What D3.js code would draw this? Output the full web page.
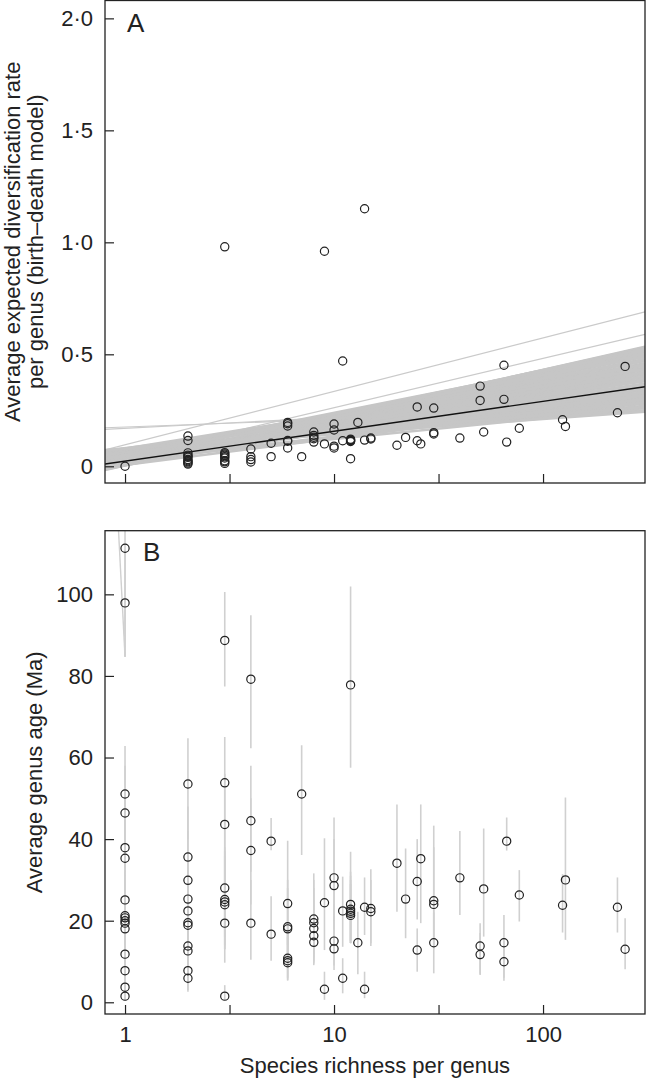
<!DOCTYPE html>
<html>
<head>
<meta charset="utf-8">
<script src="https://cdn.jsdelivr.net/npm/d3@7"></script>
<style>
  html, body { margin: 0; padding: 0; background: #fff; }
  svg text { font-family: "Liberation Sans", Arial, Helvetica, sans-serif; fill: #222; }
</style>
</head>
<body>
<svg id="chart" width="646" height="1078"></svg>
<script>
// ---------------- DATA ----------------
// Panel A: species richness (x) vs average expected diversification rate (y)
const aX = [1,
  2,2,2,2,2,2,2,2,2,2,2,
  3,3,3,3,3,3,3,3,3,
  4,4,4,4,
  5,5,
  6,6,6,6,6,6,
  7,
  8,8,8,8,8,
  9,9,
  10,10,10,10,
  11,11,
  12,12,12,12,12,12,
  13,
  14,14,
  15,15,
  20,22,25,25,26,30,30,30,40,50,50,52,65,65,67,77,124,128,227,247];
const aY = [0.0,
  0.135,0.115,0.06,0.05,0.045,0.04,0.03,0.025,0.02,0.015,0.01,
  0.98,0.061,0.055,0.049,0.043,0.037,0.025,0.02,0.013,
  0.077,0.043,0.03,0.019,
  0.103,0.043,
  0.196,0.19,0.18,0.115,0.112,0.082,
  0.043,
  0.153,0.138,0.13,0.123,0.108,
  0.96,0.1,
  0.189,0.162,0.09,0.082,
  0.47,0.114,
  0.121,0.118,0.115,0.113,0.111,0.034,
  0.196,
  1.15,0.117,
  0.126,0.122,
  0.094,0.129,0.265,0.114,0.1,0.26,0.15,0.144,0.126,0.358,0.294,0.153,0.451,0.299,0.108,0.17,0.208,0.178,0.239,0.446];

// Fitted regression (value at x = 1, slope per log10 unit)
const fitIntercept = 0.023;
const fitSlope = 0.1335;

// Resampled regression lines: value at left plot edge and at right plot edge
const bandLeft  = [-0.016,-0.012,-0.008,-0.005,0.0,0.002,0.005,0.008,0.01,0.012,0.015,0.017,0.02,0.022,0.025,0.027,0.03,0.032,0.035,0.037,0.04,0.042,0.045,0.048,0.05,0.055,0.06,0.065,0.073,
  -0.01,0.0,0.01,0.02,0.03,0.04,0.05,0.06,0.07,-0.005,0.065,0.0,0.015,0.035,0.055,0.045,0.025,
  -0.014,0.004,0.018,0.028,0.038,0.052,0.062,0.068,0.07,-0.003,0.008,0.033];
const bandRight = [0.534,0.52,0.51,0.50,0.49,0.47,0.46,0.45,0.44,0.43,0.42,0.41,0.40,0.39,0.38,0.37,0.36,0.35,0.34,0.33,0.32,0.31,0.30,0.29,0.28,0.27,0.26,0.25,0.244,
  0.40,0.36,0.30,0.26,0.50,0.47,0.44,0.40,0.36,0.30,0.45,0.53,0.525,0.515,0.42,0.49,0.33,
  0.48,0.455,0.435,0.415,0.385,0.345,0.315,0.285,0.265,0.42,0.385,0.475];
// Outlying resampled lines (drawn thinner, visible outside the band)
const outLeft  = [0.073, 0.02, 0.172, 0.165];
const outRight = [0.69, 0.589, 0.26, 0.29];

// Panel B: species richness (x) vs average genus age (Ma) with uncertainty ranges
const bX  = [1,1,1,1,1,1,1,1,1,1,1,1,1,1,1,1,
  2,2,2,2,2,2,2,2,2,2,2,
  3,3,3,3,3,3,3,3,3,
  4,4,4,4,
  5,5,
  6,6,6,6,6,6,
  7,
  8,8,8,8,8,
  9,9,
  10,10,10,10,
  11,11,
  12,12,12,12,12,12,
  13,
  14,14,
  15,15,
  20,22,25,25,26,30,30,30,40,50,50,52,65,65,67,77,124,128,227,247];
const bY  = [111.3,97.9,51.05,46.4,37.9,35.3,25.1,21.2,20.7,20.0,19.4,18.0,11.8,7.75,3.7,1.5,
  53.5,35.6,29.9,25.3,22.4,19.5,18.9,13.8,12.6,7.75,5.9,
  88.7,53.8,43.6,28.0,25.2,24.6,23.9,19.4,1.5,
  79.2,44.5,37.2,19.4,
  39.5,16.7,
  24.2,18.5,18.0,10.8,10.2,9.7,
  51.05,
  20.4,19.5,18.1,16.3,14.7,
  24.4,3.2,
  30.5,28.6,15.0,13.1,
  22.4,5.9,
  77.8,24.0,22.8,22.3,21.8,21.3,
  14.6,
  23.3,3.2,
  23.0,22.2,
  34.1,25.3,29.6,12.8,35.2,24.9,24.0,14.6,30.5,13.8,11.7,27.8,14.6,9.95,39.5,26.3,23.8,30.0,23.3,13.0];
const bLo = [84.7,84.7,38,33,25,22,14,11,10,9,9,8,4,2,0.5,0.3,
  40,22,18,14,12,10,9,6,5,3,2.6,
  77.4,40,30,16,14,13,13,9.7,0.5,
  62.3,32,24,10.4,
  37.3,10.2,
  14,10,9,5.3,6,5.5,
  36.1,
  12,11,10,9.1,9.5,
  12.8,0.6,
  20,18,9,7.9,
  13.6,2.2,
  57.5,15,14.5,14.5,14.5,14.5,
  6.9,
  16.5,1,
  13.8,14.5,
  22.2,15.7,20.3,7.5,19.4,14,13,7.1,21.4,6.7,7,16.1,5.3,6,37.2,19.8,17.1,15.3,17.1,8.1];
const bHi = [118,111,62.8,58,50,47,36,32,31,30,29,28,20,14,8,4,
  64.7,48,42,36,33,30,29,22,20,14,12,
  100.6,65,56,40,38,37,36,30,4.2,
  94.9,58,50,30,
  45.2,26,
  39.6,30,28,18,17,16,
  63,
  31.6,30,28,25,22,
  40.2,7.5,
  45.3,40,24,21,
  30.8,10.8,
  101.9,36.9,32,31,30,29,
  22.2,
  30.6,7.5,
  32.6,30,
  48.5,37.7,40,18.1,48.5,43.3,38,22,42,19.4,17,42.6,21.4,15,45.3,32.4,31.4,50.2,30.6,20.6];
// A stray slanted range line near the top-left of panel B
const slantX = [0.93, 1];
const slantY = [116, 84.7];

// Axis ticks
const xTicks = [1, Math.sqrt(10), 10, Math.sqrt(1000), 100];
const xTickLabels = {1: "1", 10: "10", 100: "100"};
const aYTicks = [0, 0.5, 1.0, 1.5, 2.0];
const aYTickLabels = ["0", "0\u00B75", "1\u00B70", "1\u00B75", "2\u00B70"];
const bYTicks = [0, 20, 40, 60, 80, 100];
const bYTickLabels = ["0", "20", "40", "60", "80", "100"];

// ---------------- LAYOUT ----------------
const svg = d3.select("#chart");
const L = 105, R = 645;
const A = {top: 0.5, bottom: 483};
const B = {top: 530.7, bottom: 1014};
const FONT = 22;
const ink = "#222";

const x = d3.scaleLog().domain([0.802, 307.5]).range([L, R]);
const yA = d3.scaleLinear().domain([-0.0746, 2.082]).range([483, 0]);
const yB = d3.scaleLinear().domain([-2.87, 115.6]).range([B.bottom, B.top]);

const defs = svg.append("defs");
defs.append("clipPath").attr("id", "clipA").append("rect")
  .attr("x", L).attr("y", A.top).attr("width", R - L).attr("height", A.bottom - A.top);
defs.append("clipPath").attr("id", "clipB").append("rect")
  .attr("x", L).attr("y", B.top).attr("width", R - L).attr("height", B.bottom - B.top);

function frame(top, bottom, yScale, yTicks, yLabels, showXLabels) {
  const g = svg.append("g");
  const xAxis = d3.axisTop(x).tickValues(xTicks).tickSize(9).tickFormat("");
  const gx = g.append("g").attr("transform", `translate(0,${bottom})`).call(xAxis);
  gx.select(".domain").remove();
  gx.selectAll(".tick line").attr("stroke", ink).attr("stroke-width", 1.2);
  if (showXLabels) {
    const xl = d3.axisBottom(x).tickValues([1, 10, 100]).tickSize(0).tickFormat(d => xTickLabels[d]);
    const gxl = g.append("g").attr("transform", `translate(0,${bottom})`).call(xl);
    gxl.select(".domain").remove();
    gxl.selectAll(".tick text").attr("font-size", FONT).attr("y", 28).attr("dy", 0)
      .attr("font-family", '"Liberation Sans", Arial, sans-serif').attr("fill", ink);
  }
  const yAxis = d3.axisRight(yScale).tickValues(yTicks).tickSize(9).tickFormat("");
  const gy = g.append("g").attr("transform", `translate(${L},0)`).call(yAxis);
  gy.select(".domain").remove();
  gy.selectAll(".tick line").attr("stroke", ink).attr("stroke-width", 1.2);
  g.selectAll(".ylab").data(yTicks).enter().append("text")
    .attr("x", 93).attr("y", d => yScale(d)).attr("dy", "0.36em")
    .attr("text-anchor", "end").attr("font-size", FONT)
    .text((d, i) => yLabels[i]);
  g.append("rect").attr("x", L).attr("y", top).attr("width", R - L).attr("height", bottom - top)
    .attr("fill", "none").attr("stroke", ink).attr("stroke-width", 1.3);
}

// ---------------- PANEL A ----------------
const gA = svg.append("g").attr("clip-path", "url(#clipA)");
const [x0, x1] = x.domain();
const lineGen = d3.line().x(d => x(d[0])).y(d => yA(d[1]));
gA.selectAll(".out").data(outLeft.map((l, i) => [[x0, l], [x1, outRight[i]]]))
  .enter().append("path").attr("d", lineGen)
  .attr("fill", "none").attr("stroke", "#cacaca").attr("stroke-width", 1.2);
gA.selectAll(".band").data(bandLeft.map((l, i) => [[x0, l], [x1, bandRight[i]]]))
  .enter().append("path").attr("d", lineGen)
  .attr("fill", "none").attr("stroke", "#c6c6c6").attr("stroke-width", 2.6);
const fitPts = [x0, x1].map(v => [v, fitIntercept + fitSlope * Math.log10(v)]);
gA.append("path").attr("d", lineGen(fitPts)).attr("fill", "none")
  .attr("stroke", "#111").attr("stroke-width", 1.4);
gA.selectAll(".pt").data(aX.map((v, i) => [v, aY[i]])).enter().append("circle")
  .attr("cx", d => x(d[0])).attr("cy", d => yA(d[1])).attr("r", 4.1)
  .attr("fill", "none").attr("stroke", "#222").attr("stroke-width", 1.2);

frame(A.top, A.bottom, yA, aYTicks, aYTickLabels, false);
svg.append("text").attr("x", 127).attr("y", 32).attr("font-size", 26).text("A");

// ---------------- PANEL B ----------------
const gB = svg.append("g").attr("clip-path", "url(#clipB)");
gB.selectAll(".err").data(bX.map((v, i) => [v, bLo[i], bHi[i]])).enter().append("line")
  .attr("x1", d => x(d[0])).attr("x2", d => x(d[0]))
  .attr("y1", d => yB(d[1])).attr("y2", d => yB(d[2]))
  .attr("stroke", "#d0d0d0").attr("stroke-width", 1.6);
gB.append("line")
  .attr("x1", x(slantX[0])).attr("y1", yB(slantY[0]))
  .attr("x2", x(slantX[1])).attr("y2", yB(slantY[1]))
  .attr("stroke", "#d0d0d0").attr("stroke-width", 1.4);
gB.selectAll(".pt").data(bX.map((v, i) => [v, bY[i]])).enter().append("circle")
  .attr("cx", d => x(d[0])).attr("cy", d => yB(d[1])).attr("r", 4.1)
  .attr("fill", "none").attr("stroke", "#222").attr("stroke-width", 1.2);

frame(B.top, B.bottom, yB, bYTicks, bYTickLabels, true);
svg.append("text").attr("x", 143).attr("y", 561).attr("font-size", 26).text("B");

// ---------------- AXIS TITLES ----------------
const midA = (A.top + A.bottom) / 2;
svg.append("text").attr("transform", `translate(19.5,${midA}) rotate(-90)`)
  .attr("text-anchor", "middle").attr("font-size", FONT)
  .text("Average expected diversification rate");
svg.append("text").attr("transform", `translate(42.5,${midA}) rotate(-90)`)
  .attr("text-anchor", "middle").attr("font-size", FONT)
  .text("per genus (birth\u2013death model)");
const midB = (B.top + B.bottom) / 2;
svg.append("text").attr("transform", `translate(41.5,${midB}) rotate(-90)`)
  .attr("text-anchor", "middle").attr("font-size", FONT)
  .text("Average genus age (Ma)");
svg.append("text").attr("x", (L + R) / 2).attr("y", 1073)
  .attr("text-anchor", "middle").attr("font-size", FONT)
  .text("Species richness per genus");
</script>
</body>
</html>
